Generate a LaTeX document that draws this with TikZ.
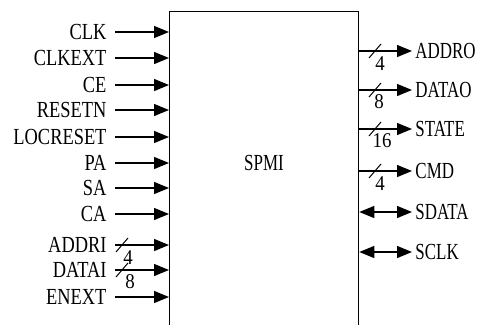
\documentclass[tikz,border=0pt]{standalone}
\usepackage{fontspec}
\setmainfont{Liberation Serif}
\usetikzlibrary{arrows.meta,arrows}

\tikzset{
  sig/.style={font=\fontsize{23}{25}\selectfont, xscale=0.8, inner sep=0pt},
  sigout/.style={sig, xscale=0.92},
  buswd/.style={font=\fontsize{21}{23}\selectfont, xscale=0.9, inner sep=0pt},
}

\begin{document}
\begin{tikzpicture}[x=1pt, y=-1pt, line width=1.3pt, >={Triangle[length=15pt, width=12pt]}]
        \useasboundingbox (0,0) rectangle (478,324);
        \clip (0,0) rectangle (478,324);

        % Block (open at the bottom)
        \node (spmi) at (169,10.5) [anchor=north west, draw, minimum width=189pt, minimum height=340pt] {};
        \node (name) at (264,163) [sig, xscale=0.92] {SPMI};

        % Inputs
        \node at (107,32) [anchor=east, sig] (clk) {CLK};
        \node at (107,58) [anchor=east, sig] (clkext) {CLKEXT};
        \node at (107,85) [anchor=east, sig] (ce) {CE};
        \node at (107,110) [anchor=east, sig] (resetn) {RESETN};
        \node at (107,137) [anchor=east, sig] (locreset) {LOCRESET};
        \node at (107,163) [anchor=east, sig] (pa) {PA};
        \node at (107,188) [anchor=east, sig] (sa) {SA};
        \node at (107,214) [anchor=east, sig] (ca) {CA};
        \node at (107,245) [anchor=east, sig] (addri) {ADDRI};
        \node at (107,270) [anchor=east, sig] (datai) {DATAI};
        \node at (107,297) [anchor=east, sig] (enext) {ENEXT};

        % Outputs
        \node at (415,51) [anchor=west, sigout] (addro) {ADDRO};
        \node at (415,90) [anchor=west, sigout] (datao) {DATAO};
        \node at (415,129) [anchor=west, sigout] (state) {STATE};
        \node at (415,171) [anchor=west, sigout] (cmd) {CMD};
        \node at (415,212) [anchor=west, sigout] (sdata) {SDATA};
        \node at (415,252) [anchor=west, sigout] (sclk) {SCLK};

        % Input arrows
        \draw[->] ([xshift=8pt]clk.east) -- (clk.east -| spmi.west);
        \draw[->] ([xshift=8pt]clkext.east) -- (clkext.east -| spmi.west);
        \draw[->] ([xshift=8pt]ce.east) -- (ce.east -| spmi.west);
        \draw[->] ([xshift=8pt]resetn.east) -- (resetn.east -| spmi.west);
        \draw[->] ([xshift=8pt]locreset.east) -- (locreset.east -| spmi.west);
        \draw[->] ([xshift=8pt]pa.east) -- (pa.east -| spmi.west);
        \draw[->] ([xshift=8pt]sa.east) -- (sa.east -| spmi.west);
        \draw[->] ([xshift=8pt]ca.east) -- (ca.east -| spmi.west);
        \draw[->] ([xshift=8pt]addri.east) -- (addri.east -| spmi.west);
        \draw[->] ([xshift=8pt]datai.east) -- (datai.east -| spmi.west);
        \draw[->] ([xshift=8pt]enext.east) -- (enext.east -| spmi.west);

        % Output arrows
        \draw[->] (addro.west -| spmi.east) -- ([xshift=-3pt]addro.west);
        \draw[->] (datao.west -| spmi.east) -- ([xshift=-3pt]datao.west);
        \draw[->] (state.west -| spmi.east) -- ([xshift=-3pt]state.west);
        \draw[->] (cmd.west -| spmi.east) -- ([xshift=-3pt]cmd.west);
        \draw[<->] (sdata.west -| spmi.east) -- ([xshift=-3pt]sdata.west);
        \draw[<->] (sclk.west -| spmi.east) -- ([xshift=-3pt]sclk.west);

        % Bus widths
        \coordinate (s1) at (122,245);
        \coordinate (s2) at (122,270);
        \coordinate (s3) at (375,51);
        \coordinate (s4) at (375,90);
        \coordinate (s5) at (375,129);
        \coordinate (s6) at (375,171);
        \foreach \s in {s1,s2,s3,s4,s5,s6}
            \draw[line width=1pt] ([shift={(-6,7)}]\s) -- ([shift={(6,-7)}]\s);
        \node at (128,258) [buswd] (w1) {4};
        \node at (130,282) [buswd] (w2) {8};
        \node at (380,64) [buswd] (w3) {4};
        \node at (379,102) [buswd] (w4) {8};
        \node at (382,141) [buswd] (w5) {16};
        \node at (380,184) [buswd] (w6) {4};

    \end{tikzpicture}
\end{document}
